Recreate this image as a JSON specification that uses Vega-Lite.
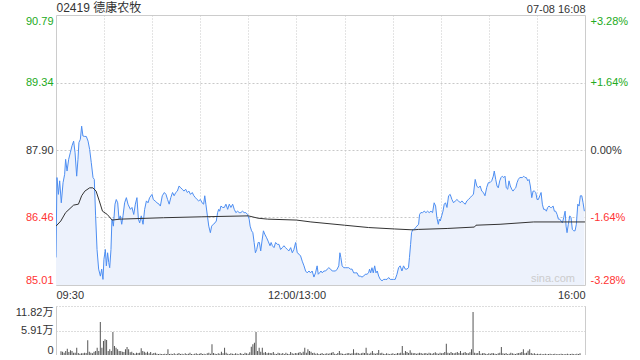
{
  "$schema": "https://vega.github.io/schema/vega-lite/v6.json",
  "padding": {"left": 15, "top": 0, "right": 0, "bottom": 0},
  "background": "white",
  "spacing": 5,
  "config": {
    "font": "Liberation Sans",
    "view": {"stroke": null},
    "axis": {"labelFont": "Liberation Sans, Noto Sans CJK SC", "labelFontSize": 11, "labelColor": "#333333", "ticks": false, "domain": false, "title": null, "gridColor": "#cfcfcf"}
  },
  "datasets": {
    "price": [
      {"t":0,"p":85.60},{"t":0.6,"p":87.31},{"t":1.5,"p":86.95},{"t":2.3,"p":87.24},{"t":3.3,"p":86.77},{"t":4.4,"p":87.20},{"t":5.4,"p":87.38},{"t":6.0,"p":87.70},{"t":6.9,"p":87.45},{"t":7.9,"p":87.70},
      {"t":8.9,"p":87.84},{"t":10.0,"p":87.99},{"t":11.0,"p":88.09},{"t":11.9,"p":87.84},{"t":12.9,"p":87.34},{"t":13.7,"p":87.70},{"t":14.3,"p":88.06},{"t":15.2,"p":88.13},{"t":16.0,"p":88.41},{"t":16.8,"p":88.20},
      {"t":17.9,"p":88.19},{"t":18.9,"p":88.19},{"t":20.0,"p":88.09},{"t":21.0,"p":87.91},{"t":22.0,"p":87.63},{"t":23.1,"p":87.31},{"t":23.9,"p":87.27},{"t":24.7,"p":86.49},{"t":25.6,"p":85.77},{"t":26.6,"p":85.35},
      {"t":27.7,"p":85.20},{"t":28.5,"p":85.35},{"t":29.3,"p":85.13},{"t":29.9,"p":85.56},{"t":30.8,"p":85.77},{"t":31.4,"p":85.42},{"t":32.2,"p":85.70},{"t":32.9,"p":85.49},{"t":33.5,"p":85.38},{"t":34.3,"p":85.77},
      {"t":34.9,"p":86.42},{"t":35.8,"p":86.27},{"t":36.8,"p":86.74},{"t":37.6,"p":86.84},{"t":38.5,"p":86.77},{"t":39.3,"p":86.42},{"t":40.1,"p":86.49},{"t":41.0,"p":86.31},{"t":41.8,"p":86.49},{"t":42.8,"p":86.77},
      {"t":43.9,"p":86.88},{"t":44.9,"p":86.74},{"t":46.4,"p":86.63},{"t":47.4,"p":86.67},{"t":48.5,"p":86.52},{"t":49.5,"p":86.74},{"t":50.5,"p":86.88},{"t":51.4,"p":86.42},{"t":52.2,"p":86.34},{"t":53.2,"p":86.49},
      {"t":54.3,"p":86.31},{"t":55.3,"p":86.63},{"t":56.4,"p":86.81},{"t":57.4,"p":86.77},{"t":58.4,"p":86.88},{"t":59.9,"p":86.95},{"t":60.7,"p":86.84},{"t":61.8,"p":86.81},{"t":63.0,"p":86.77},{"t":64.3,"p":86.74},
      {"t":65.1,"p":86.70},{"t":66.3,"p":86.92},{"t":67.6,"p":86.99},{"t":68.6,"p":86.95},{"t":69.6,"p":86.84},{"t":70.6,"p":86.74},{"t":71.6,"p":86.88},{"t":72.7,"p":86.99},{"t":73.7,"p":86.92},{"t":74.7,"p":86.99},
      {"t":75.7,"p":87.02},{"t":76.8,"p":87.13},{"t":77.8,"p":87.09},{"t":78.8,"p":87.06},{"t":79.8,"p":87.02},{"t":80.9,"p":87.06},{"t":81.9,"p":86.99},{"t":82.9,"p":87.02},{"t":83.9,"p":86.95},{"t":85.0,"p":86.99},
      {"t":86.0,"p":86.92},{"t":87.0,"p":86.88},{"t":88.0,"p":86.84},{"t":89.0,"p":86.81},{"t":90.1,"p":86.84},{"t":91.1,"p":86.77},{"t":92.1,"p":86.74},{"t":92.8,"p":86.92},{"t":93.5,"p":86.74},{"t":94.6,"p":86.45},
      {"t":95.3,"p":86.27},{"t":96.3,"p":86.13},{"t":97.1,"p":86.27},{"t":98.1,"p":86.31},{"t":99.2,"p":86.34},{"t":100.0,"p":86.38},{"t":100.8,"p":86.56},{"t":101.5,"p":86.63},{"t":102.1,"p":86.59},{"t":102.9,"p":86.70},
      {"t":104.0,"p":86.67},{"t":105.0,"p":86.67},{"t":106.0,"p":86.74},{"t":107.1,"p":86.63},{"t":108.1,"p":86.74},{"t":109.1,"p":86.67},{"t":110.2,"p":86.74},{"t":111.2,"p":86.63},{"t":112.2,"p":86.56},{"t":113.3,"p":86.59},
      {"t":114.3,"p":86.56},{"t":115.3,"p":86.56},{"t":116.3,"p":86.59},{"t":117.4,"p":86.56},{"t":118.4,"p":86.56},{"t":119.5,"p":86.52},{"t":120.5,"p":86.42},{"t":121.1,"p":86.27},{"t":122.0,"p":86.17},{"t":122.8,"p":86.13},
      {"t":123.6,"p":85.92},{"t":124.4,"p":85.70},{"t":125.2,"p":85.77},{"t":126.1,"p":85.92},{"t":126.9,"p":85.92},{"t":127.7,"p":85.74},{"t":128.5,"p":85.95},{"t":129.4,"p":86.17},{"t":130.2,"p":86.10},{"t":131.4,"p":86.02},
      {"t":132.3,"p":85.95},{"t":133.5,"p":85.85},{"t":134.2,"p":85.92},{"t":135.0,"p":85.85},{"t":136.0,"p":85.81},{"t":137.0,"p":85.92},{"t":138.1,"p":85.88},{"t":139.1,"p":85.88},{"t":140.1,"p":85.77},{"t":141.2,"p":85.81},
      {"t":142.2,"p":85.85},{"t":143.2,"p":85.81},{"t":144.3,"p":85.77},{"t":145.3,"p":85.74},{"t":146.4,"p":85.81},{"t":147.4,"p":85.70},{"t":148.4,"p":85.77},{"t":149.5,"p":85.92},{"t":150.5,"p":85.70},{"t":151.6,"p":85.67},
      {"t":152.6,"p":85.63},{"t":153.6,"p":85.52},{"t":154.7,"p":85.42},{"t":155.7,"p":85.31},{"t":156.7,"p":85.27},{"t":157.8,"p":85.31},{"t":158.8,"p":85.27},{"t":159.8,"p":85.31},{"t":160.9,"p":85.18},{"t":161.9,"p":85.27},
      {"t":162.9,"p":85.42},{"t":163.6,"p":85.24},{"t":164.4,"p":85.27},{"t":165.3,"p":85.31},{"t":166.1,"p":85.27},{"t":167.1,"p":85.31},{"t":168.2,"p":85.31},{"t":169.2,"p":85.35},{"t":170.2,"p":85.38},{"t":171.3,"p":85.35},
      {"t":172.3,"p":85.31},{"t":173.3,"p":85.31},{"t":174.4,"p":85.31},{"t":175.4,"p":85.35},{"t":176.4,"p":85.42},{"t":177.1,"p":85.70},{"t":177.7,"p":85.60},{"t":178.5,"p":85.42},{"t":179.5,"p":85.38},{"t":180.5,"p":85.38},
      {"t":181.6,"p":85.38},{"t":182.6,"p":85.38},{"t":183.6,"p":85.35},{"t":184.7,"p":85.35},{"t":185.7,"p":85.27},{"t":186.7,"p":85.27},{"t":187.8,"p":85.27},{"t":188.8,"p":85.20},{"t":189.8,"p":85.20},{"t":190.9,"p":85.18},
      {"t":191.9,"p":85.20},{"t":192.9,"p":85.24},{"t":194.0,"p":85.24},{"t":195.0,"p":85.27},{"t":195.6,"p":85.35},{"t":196.3,"p":85.27},{"t":197.1,"p":85.38},{"t":197.9,"p":85.27},{"t":198.8,"p":85.42},{"t":199.6,"p":85.27},
      {"t":200.4,"p":85.31},{"t":201.3,"p":85.20},{"t":202.3,"p":85.13},{"t":203.4,"p":85.10},{"t":204.4,"p":85.13},{"t":205.4,"p":85.13},{"t":206.5,"p":85.13},{"t":207.5,"p":85.17},{"t":208.5,"p":85.13},{"t":209.6,"p":85.13},
      {"t":210.6,"p":85.13},{"t":211.6,"p":85.13},{"t":212.7,"p":85.24},{"t":213.7,"p":85.38},{"t":214.7,"p":85.42},{"t":215.8,"p":85.31},{"t":216.8,"p":85.42},{"t":217.9,"p":85.35},{"t":218.9,"p":85.35},{"t":219.9,"p":85.38},
      {"t":220.5,"p":85.60},{"t":221.2,"p":85.88},{"t":221.8,"p":86.13},{"t":222.6,"p":86.20},{"t":223.5,"p":86.20},{"t":224.3,"p":86.24},{"t":225.1,"p":86.27},{"t":226.2,"p":86.31},{"t":226.8,"p":86.52},{"t":227.6,"p":86.56},
      {"t":228.7,"p":86.56},{"t":229.7,"p":86.59},{"t":230.8,"p":86.56},{"t":231.8,"p":86.59},{"t":232.8,"p":86.56},{"t":233.9,"p":86.59},{"t":234.9,"p":86.56},{"t":235.9,"p":86.77},{"t":236.8,"p":86.70},{"t":237.6,"p":86.45},
      {"t":238.5,"p":86.31},{"t":239.1,"p":86.42},{"t":239.7,"p":86.38},{"t":240.6,"p":86.49},{"t":241.4,"p":86.59},{"t":242.2,"p":86.74},{"t":243.0,"p":86.77},{"t":243.9,"p":86.67},{"t":244.9,"p":86.92},{"t":245.9,"p":86.95},
      {"t":247.0,"p":86.84},{"t":248.0,"p":86.77},{"t":249.1,"p":86.81},{"t":250.1,"p":86.84},{"t":251.1,"p":86.81},{"t":252.2,"p":86.77},{"t":253.2,"p":86.81},{"t":254.2,"p":86.77},{"t":255.3,"p":86.74},{"t":256.3,"p":86.81},
      {"t":257.3,"p":86.84},{"t":258.4,"p":86.88},{"t":259.4,"p":86.92},{"t":260.4,"p":86.95},{"t":261.5,"p":87.27},{"t":262.5,"p":87.13},{"t":263.5,"p":87.09},{"t":264.6,"p":87.13},{"t":265.6,"p":87.02},{"t":266.6,"p":86.99},
      {"t":267.6,"p":86.92},{"t":268.7,"p":87.10},{"t":269.7,"p":87.20},{"t":270.7,"p":87.20},{"t":271.8,"p":87.24},{"t":272.8,"p":87.34},{"t":273.4,"p":87.45},{"t":274.3,"p":87.27},{"t":275.1,"p":87.13},{"t":275.9,"p":87.09},
      {"t":276.8,"p":87.24},{"t":277.6,"p":87.31},{"t":278.4,"p":87.34},{"t":279.3,"p":87.31},{"t":280.1,"p":87.34},{"t":280.9,"p":87.09},{"t":281.8,"p":87.06},{"t":282.6,"p":87.24},{"t":283.4,"p":87.13},{"t":284.3,"p":87.06},
      {"t":285.1,"p":87.02},{"t":285.9,"p":87.06},{"t":286.8,"p":87.09},{"t":287.6,"p":87.20},{"t":288.4,"p":87.27},{"t":289.3,"p":87.31},{"t":290.1,"p":87.31},{"t":290.9,"p":87.31},{"t":291.8,"p":87.34},{"t":292.6,"p":87.31},
      {"t":293.4,"p":87.31},{"t":294.3,"p":87.24},{"t":295.1,"p":87.27},{"t":295.9,"p":87.13},{"t":296.8,"p":86.88},{"t":297.6,"p":87.02},{"t":298.4,"p":87.02},{"t":299.3,"p":86.99},{"t":300.1,"p":86.84},{"t":300.9,"p":86.84},
      {"t":301.8,"p":86.92},{"t":302.6,"p":86.99},{"t":303.4,"p":86.74},{"t":304.2,"p":86.63},{"t":305.1,"p":86.63},{"t":305.9,"p":86.59},{"t":306.7,"p":86.67},{"t":307.6,"p":86.70},{"t":308.4,"p":86.67},{"t":309.2,"p":86.67},
      {"t":310.1,"p":86.70},{"t":310.9,"p":86.59},{"t":311.7,"p":86.59},{"t":312.6,"p":86.52},{"t":313.4,"p":86.42},{"t":314.2,"p":86.42},{"t":315.1,"p":86.38},{"t":315.9,"p":86.34},{"t":316.7,"p":86.45},{"t":317.6,"p":86.59},
      {"t":318.2,"p":86.27},{"t":318.8,"p":86.13},{"t":319.6,"p":86.31},{"t":320.5,"p":86.49},{"t":321.3,"p":86.45},{"t":322.1,"p":86.20},{"t":323.0,"p":86.17},{"t":323.8,"p":86.17},{"t":324.6,"p":86.31},{"t":325.5,"p":86.74},
      {"t":326.3,"p":86.70},{"t":327.1,"p":86.92},{"t":328.0,"p":86.92},{"t":328.8,"p":86.77},{"t":329.6,"p":86.59}
    ],
    "avg": [
      {"t":0,"a":86.27},{"t":3,"a":86.38},{"t":6,"a":86.56},{"t":11,"a":86.72},{"t":14,"a":86.74},{"t":16,"a":86.92},{"t":18,"a":87.02},{"t":21,"a":87.09},{"t":23,"a":87.09},{"t":25,"a":87.02},
      {"t":27,"a":86.81},{"t":29,"a":86.59},{"t":32,"a":86.52},{"t":35,"a":86.40},{"t":40,"a":86.42},{"t":67,"a":86.45},{"t":91,"a":86.47},{"t":120,"a":86.49},{"t":126,"a":86.44},{"t":132,"a":86.42},
      {"t":150,"a":86.40},{"t":159,"a":86.36},{"t":180,"a":86.29},{"t":195,"a":86.24},{"t":211,"a":86.21},{"t":223,"a":86.19},{"t":226,"a":86.20},{"t":244,"a":86.22},{"t":261,"a":86.25},{"t":262,"a":86.29},
      {"t":277,"a":86.31},{"t":298,"a":86.36},{"t":330,"a":86.36}
    ],
    "vol": [
      {"t":0,"v":0.9},{"t":1,"v":0.8},{"t":2,"v":0.56},{"t":3,"v":0.96},{"t":4,"v":1.53},{"t":5,"v":0.72},{"t":6,"v":1.13},{"t":7,"v":0.96},{"t":8,"v":0.56},{"t":9,"v":0.56},
      {"t":10,"v":1.77},{"t":11,"v":0.48},{"t":12,"v":0.32},{"t":13,"v":0.4},{"t":14,"v":0.4},{"t":15,"v":0.56},{"t":16,"v":0.5},{"t":17,"v":3.54},{"t":18,"v":0.8},{"t":19,"v":0.56},
      {"t":20,"v":0.4},{"t":21,"v":0.8},{"t":22,"v":0.96},{"t":23,"v":1.77},{"t":24,"v":0.96},{"t":25,"v":7.96},{"t":26,"v":1.77},{"t":27,"v":3.38},{"t":28,"v":3.78},{"t":29,"v":3.62},
      {"t":30,"v":0.96},{"t":31,"v":1.36},{"t":32,"v":0.96},{"t":33,"v":5.55},{"t":34,"v":2.17},{"t":35,"v":1.77},{"t":36,"v":1.36},{"t":37,"v":0.96},{"t":38,"v":0.96},{"t":39,"v":0.8},
      {"t":40,"v":0.72},{"t":41,"v":1.36},{"t":42,"v":1.93},{"t":43,"v":1.36},{"t":44,"v":0.64},{"t":45,"v":0.8},{"t":46,"v":0.48},{"t":47,"v":0.32},{"t":48,"v":0.56},{"t":49,"v":0.48},
      {"t":50,"v":0.56},{"t":51,"v":1.6},{"t":52,"v":0.96},{"t":53,"v":0.8},{"t":54,"v":0.56},{"t":55,"v":0.8},{"t":56,"v":0.4},{"t":57,"v":0.72},{"t":58,"v":0.32},{"t":59,"v":0.48},
      {"t":60,"v":0.56},{"t":61,"v":0.32},{"t":62,"v":0.24},{"t":63,"v":0.32},{"t":64,"v":0.24},{"t":65,"v":0.24},{"t":66,"v":0.32},{"t":67,"v":0.24},{"t":68,"v":1.37},{"t":69,"v":0.24},
      {"t":70,"v":0.32},{"t":71,"v":0.24},{"t":72,"v":0.4},{"t":73,"v":0.2},{"t":74,"v":0.32},{"t":75,"v":0.48},{"t":76,"v":0.24},{"t":77,"v":0.32},{"t":78,"v":0.2},{"t":79,"v":0.4},
      {"t":80,"v":0.24},{"t":81,"v":0.32},{"t":82,"v":0.56},{"t":83,"v":0.24},{"t":84,"v":0.2},{"t":85,"v":0.32},{"t":86,"v":0.4},{"t":87,"v":0.24},{"t":88,"v":0.32},{"t":89,"v":0.48},
      {"t":90,"v":0.24},{"t":91,"v":0.32},{"t":92,"v":0.2},{"t":93,"v":0.4},{"t":94,"v":0.56},{"t":95,"v":0.32},{"t":96,"v":2.57},{"t":97,"v":0.48},{"t":98,"v":0.32},{"t":99,"v":0.24},
      {"t":100,"v":0.4},{"t":101,"v":0.32},{"t":102,"v":0.8},{"t":103,"v":0.4},{"t":104,"v":1.77},{"t":105,"v":0.56},{"t":106,"v":0.32},{"t":107,"v":0.24},{"t":108,"v":0.4},{"t":109,"v":0.32},
      {"t":110,"v":0.24},{"t":111,"v":0.4},{"t":112,"v":0.32},{"t":113,"v":0.2},{"t":114,"v":0.48},{"t":115,"v":0.32},{"t":116,"v":0.24},{"t":117,"v":0.56},{"t":118,"v":0.4},{"t":119,"v":0.32},
      {"t":120,"v":0.64},{"t":121,"v":2.0},{"t":122,"v":2.57},{"t":123,"v":2.97},{"t":124,"v":5.55},{"t":125,"v":0.96},{"t":126,"v":1.77},{"t":127,"v":0.8},{"t":128,"v":1.77},{"t":129,"v":0.56},
      {"t":130,"v":0.72},{"t":131,"v":0.4},{"t":132,"v":0.56},{"t":133,"v":0.48},{"t":134,"v":0.4},{"t":135,"v":0.72},{"t":136,"v":0.32},{"t":137,"v":0.24},{"t":138,"v":0.56},{"t":139,"v":0.4},
      {"t":140,"v":0.32},{"t":141,"v":0.48},{"t":142,"v":0.24},{"t":143,"v":0.56},{"t":144,"v":0.32},{"t":145,"v":0.24},{"t":146,"v":0.72},{"t":147,"v":0.4},{"t":148,"v":0.32},{"t":149,"v":0.48},
      {"t":150,"v":0.4},{"t":151,"v":0.56},{"t":152,"v":0.72},{"t":153,"v":0.4},{"t":154,"v":0.8},{"t":155,"v":1.77},{"t":156,"v":0.56},{"t":157,"v":1.37},{"t":158,"v":0.96},{"t":159,"v":0.8},
      {"t":160,"v":0.48},{"t":161,"v":0.56},{"t":162,"v":0.32},{"t":163,"v":0.4},{"t":164,"v":0.24},{"t":165,"v":0.32},{"t":166,"v":0.48},{"t":167,"v":0.24},{"t":168,"v":0.32},{"t":169,"v":0.4},
      {"t":170,"v":0.32},{"t":171,"v":0.4},{"t":172,"v":0.56},{"t":173,"v":0.72},{"t":174,"v":0.32},{"t":175,"v":0.24},{"t":176,"v":0.48},{"t":177,"v":0.96},{"t":178,"v":0.4},{"t":179,"v":0.32},
      {"t":180,"v":0.24},{"t":181,"v":0.32},{"t":182,"v":0.4},{"t":183,"v":0.48},{"t":184,"v":0.32},{"t":185,"v":0.4},{"t":186,"v":1.37},{"t":187,"v":0.4},{"t":188,"v":0.56},{"t":189,"v":0.48},
      {"t":190,"v":0.32},{"t":191,"v":0.4},{"t":192,"v":0.56},{"t":193,"v":0.48},{"t":194,"v":1.77},{"t":195,"v":0.4},{"t":196,"v":0.32},{"t":197,"v":0.56},{"t":198,"v":0.96},{"t":199,"v":0.4},
      {"t":200,"v":0.32},{"t":201,"v":0.48},{"t":202,"v":1.2},{"t":203,"v":0.4},{"t":204,"v":0.56},{"t":205,"v":0.32},{"t":206,"v":0.24},{"t":207,"v":0.4},{"t":208,"v":0.32},{"t":209,"v":0.24},
      {"t":210,"v":0.32},{"t":211,"v":0.4},{"t":212,"v":0.24},{"t":213,"v":0.32},{"t":214,"v":0.48},{"t":215,"v":0.4},{"t":216,"v":0.56},{"t":217,"v":2.17},{"t":218,"v":0.4},{"t":219,"v":0.96},
      {"t":220,"v":0.72},{"t":221,"v":0.48},{"t":222,"v":1.13},{"t":223,"v":0.56},{"t":224,"v":0.4},{"t":225,"v":0.48},{"t":226,"v":0.32},{"t":227,"v":0.4},{"t":228,"v":0.56},{"t":229,"v":0.48},
      {"t":230,"v":0.32},{"t":231,"v":0.4},{"t":232,"v":0.48},{"t":233,"v":0.32},{"t":234,"v":0.56},{"t":235,"v":0.4},{"t":236,"v":0.32},{"t":237,"v":0.48},{"t":238,"v":0.64},{"t":239,"v":0.4},
      {"t":240,"v":0.32},{"t":241,"v":0.56},{"t":242,"v":0.4},{"t":243,"v":0.48},{"t":244,"v":0.72},{"t":245,"v":2.73},{"t":246,"v":0.56},{"t":247,"v":0.4},{"t":248,"v":0.72},{"t":249,"v":0.48},
      {"t":250,"v":0.4},{"t":251,"v":0.56},{"t":252,"v":0.72},{"t":253,"v":0.48},{"t":254,"v":0.96},{"t":255,"v":0.4},{"t":256,"v":0.56},{"t":257,"v":0.72},{"t":258,"v":0.48},{"t":259,"v":0.4},
      {"t":260,"v":0.64},{"t":261,"v":1.37},{"t":262,"v":10.37},{"t":263,"v":0.56},{"t":264,"v":0.4},{"t":265,"v":0.48},{"t":266,"v":0.96},{"t":267,"v":0.32},{"t":268,"v":0.4},{"t":269,"v":0.48},
      {"t":270,"v":0.32},{"t":271,"v":0.24},{"t":272,"v":0.4},{"t":273,"v":0.32},{"t":274,"v":0.48},{"t":275,"v":0.4},{"t":276,"v":0.32},{"t":277,"v":0.24},{"t":278,"v":0.4},{"t":279,"v":0.56},
      {"t":280,"v":1.93},{"t":281,"v":0.4},{"t":282,"v":0.32},{"t":283,"v":0.48},{"t":284,"v":0.24},{"t":285,"v":0.32},{"t":286,"v":0.56},{"t":287,"v":0.4},{"t":288,"v":0.32},{"t":289,"v":0.24},
      {"t":290,"v":0.4},{"t":291,"v":0.48},{"t":292,"v":0.56},{"t":293,"v":0.72},{"t":294,"v":1.37},{"t":295,"v":0.4},{"t":296,"v":0.56},{"t":297,"v":1.05},{"t":298,"v":1.37},{"t":299,"v":0.48},
      {"t":300,"v":0.32},{"t":301,"v":0.4},{"t":302,"v":0.24},{"t":303,"v":0.32},{"t":304,"v":0.24},{"t":305,"v":0.32},{"t":306,"v":0.2},{"t":307,"v":0.24},{"t":308,"v":0.32},{"t":309,"v":0.2},
      {"t":310,"v":0.24},{"t":311,"v":0.32},{"t":312,"v":0.2},{"t":313,"v":0.24},{"t":314,"v":0.32},{"t":315,"v":0.2},{"t":316,"v":0.24},{"t":317,"v":0.2},{"t":318,"v":0.32},{"t":319,"v":0.24},
      {"t":320,"v":0.2},{"t":321,"v":0.24},{"t":322,"v":0.32},{"t":323,"v":0.2},{"t":324,"v":0.24},{"t":325,"v":0.32},{"t":326,"v":0.24},{"t":327,"v":0.2},{"t":328,"v":0.32},{"t":329,"v":0.24},{"t":330,"v":0.4}
    ],
    "mark": [{"t":310,"p":85.01,"label":"sina.com"}]
  },
  "vconcat": [
    {
      "width": 529,
      "height": 270,
      "view": {"stroke": "#cccccc"},
      "resolve": {"scale": {"x": "independent", "y": "independent"}},
      "layer": [
        {
          "data": {"name": "price"},
          "mark": {"type": "area", "clip": true, "opacity": 1, "fillOpacity": 1, "stroke": null, "fill": "#edf2fc"},
          "encoding": {
            "x": {"field": "t", "type": "quantitative", "scale": {"domain": [0, 330], "nice": false, "zero": false},
              "axis": {"values": [0, 30, 60, 90, 120, 150, 180, 210, 240, 270, 300, 330], "labelExpr": "datum.value == 0 ? '09:30' : datum.value == 150 ? '12:00/13:00' : datum.value == 330 ? '16:00' : ''", "labelFlush": true, "labelPadding": 4, "grid": true, "gridDash": [1, 2], "gridColor": "#c8c8c8", "gridOpacity": {"condition": {"test": "datum.value == 0 || datum.value == 330", "value": 0}, "value": 1}}},
            "y": {"field": "p", "type": "quantitative", "scale": {"domain": [85.01, 90.79], "nice": false, "zero": false},
              "axis": {"values": [85.01, 86.46, 87.90, 89.34, 90.79], "format": ".2f", "labelFlush": true, "labelPadding": 3, "grid": true, "gridDash": [2, 2], "gridColor": "#c8c8c8", "gridOpacity": {"condition": {"test": "datum.value < 85.1 || datum.value > 90.7", "value": 0}, "value": 1},
                "labelColor": {"condition": [{"test": "datum.value > 87.95", "value": "#22aa22"}, {"test": "datum.value < 87.85", "value": "#ff3333"}], "value": "#333333"}}}
          }
        },
        {
          "data": {"name": "price"},
          "mark": {"type": "line", "clip": true, "color": "#4d8ef2", "strokeWidth": 1},
          "encoding": {
            "x": {"field": "t", "type": "quantitative", "scale": {"domain": [0, 330], "nice": false, "zero": false}, "axis": null},
            "y": {"field": "p", "type": "quantitative", "scale": {"domain": [85.01, 90.79], "nice": false, "zero": false}, "axis": null}
          }
        },
        {
          "data": {"name": "avg"},
          "mark": {"type": "line", "clip": true, "color": "#333333", "strokeWidth": 1},
          "encoding": {
            "x": {"field": "t", "type": "quantitative", "scale": {"domain": [0, 330], "nice": false, "zero": false}, "axis": null},
            "y": {"field": "a", "type": "quantitative", "scale": {"domain": [85.01, 90.79], "nice": false, "zero": false},
              "axis": {"orient": "right", "values": [85.01, 86.46, 87.90, 89.34, 90.79], "labelFlush": true, "labelPadding": 5, "grid": false,
                "labelExpr": "datum.value > 90.7 ? '+3.28%' : datum.value > 89.3 ? '+1.64%' : datum.value > 87.85 ? '0.00%' : datum.value > 86.4 ? '-1.64%' : '-3.28%'",
                "labelColor": {"condition": [{"test": "datum.value > 87.95", "value": "#22aa22"}, {"test": "datum.value < 87.85", "value": "#ff3333"}], "value": "#333333"}}}
          }
        },
        {
          "data": {"name": "mark"},
          "mark": {"type": "text", "color": "#cccccc", "fontSize": 11, "font": "Liberation Sans", "align": "center", "baseline": "bottom", "dy": -1},
          "encoding": {
            "x": {"field": "t", "type": "quantitative", "scale": {"domain": [0, 330], "nice": false, "zero": false},
              "axis": {"orient": "top", "values": [0, 330], "labelFlush": true, "labelPadding": 1, "grid": false,
                "labelExpr": "datum.value == 0 ? '02419 德康农牧' : '07-08 16:08'",
                "labelFontSize": {"condition": {"test": "datum.value == 0", "value": 12}, "value": 11}}},
            "y": {"field": "p", "type": "quantitative", "scale": {"domain": [85.01, 90.79], "nice": false, "zero": false}, "axis": null},
            "text": {"field": "label"}
          }
        }
      ]
    },
    {
      "width": 529,
      "height": 49,
      "resolve": {"scale": {"y": "independent"}},
      "layer": [
        {
          "data": {"name": "vol"},
          "mark": {"type": "bar", "size": 1, "color": "#555555"},
          "encoding": {
            "x": {"field": "t", "type": "quantitative", "scale": {"domain": [0, 330], "nice": false, "zero": false},
              "axis": {"labels": false, "grid": false, "domain": true, "domainColor": "#cccccc"}},
            "y": {"field": "v", "type": "quantitative", "scale": {"domain": [0, 11.82], "nice": false},
              "axis": {"values": [0, 5.91, 11.82], "labelExpr": "datum.value == 0 ? '0' : format(datum.value, '.2f') + '万'", "labelFlush": true, "labelPadding": 3, "domain": true, "domainColor": "#cccccc", "grid": true, "gridDash": [1, 2], "gridColor": "#bbbbbb", "gridOpacity": {"condition": {"test": "datum.value == 0", "value": 0}, "value": 1}}}
          }
        },
        {
          "data": {"name": "vol"},
          "mark": {"type": "bar", "size": 1, "opacity": 0},
          "encoding": {
            "x": {"field": "t", "type": "quantitative", "scale": {"domain": [0, 330], "nice": false, "zero": false}, "axis": null},
            "y": {"field": "v", "type": "quantitative", "scale": {"domain": [0, 11.82], "nice": false},
              "axis": {"orient": "right", "labels": false, "grid": false, "domain": true, "domainColor": "#cccccc"}}
          }
        }
      ]
    }
  ]
}
